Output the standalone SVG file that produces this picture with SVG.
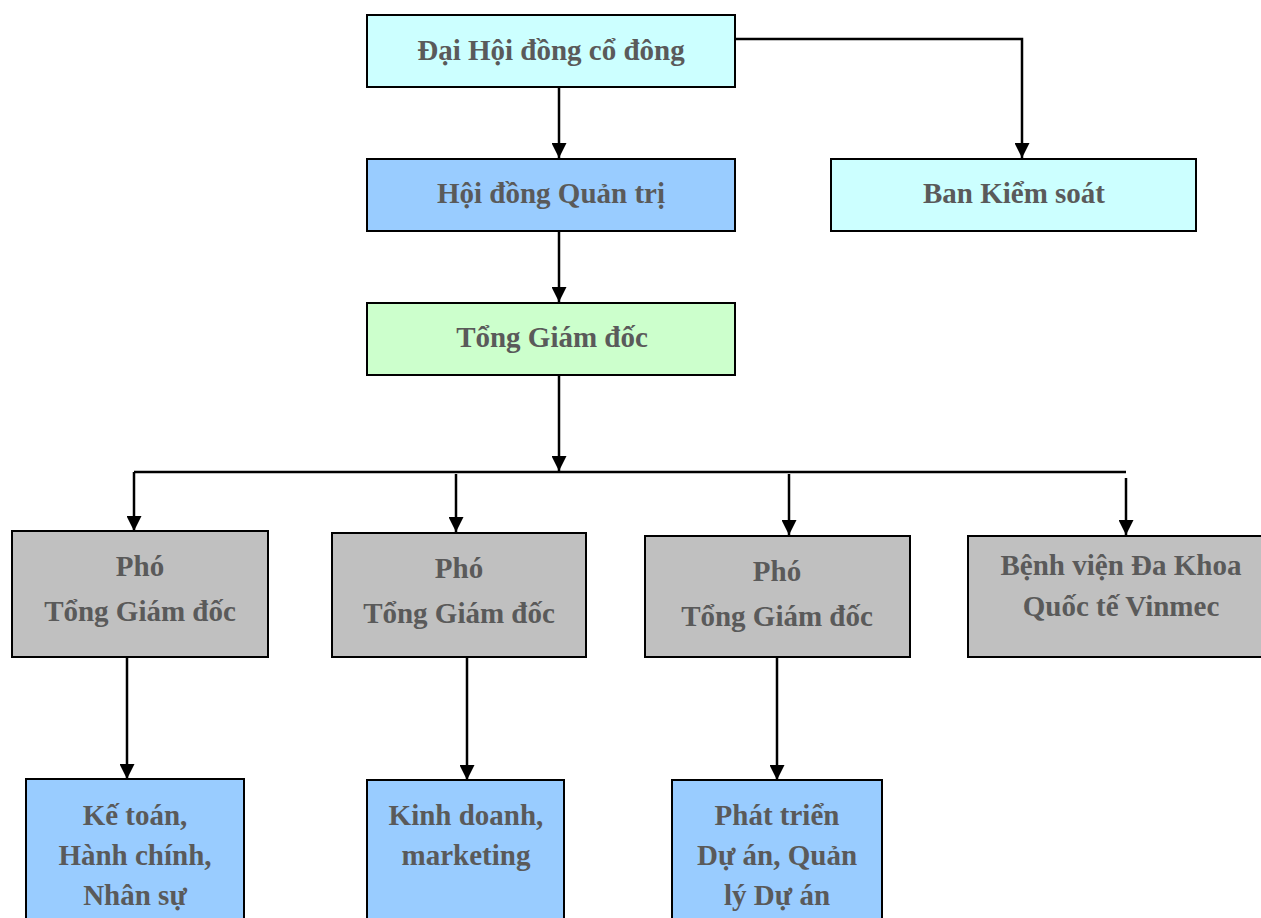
<svg xmlns="http://www.w3.org/2000/svg" width="1261" height="918" viewBox="0 0 1261 918">
<style>
.b{stroke:#000;stroke-width:2}
.t{font-family:"Liberation Serif","Times New Roman",serif;font-weight:bold;font-size:29px;fill:#5a5a5a;text-anchor:middle}
.c{stroke:#000;stroke-width:2.5;fill:none}
</style>
<defs>
<marker id="a" viewBox="0 0 10 10" refX="10" refY="5" markerWidth="15" markerHeight="15" markerUnits="userSpaceOnUse" orient="auto"><path d="M0,0L10,5L0,10z" fill="#000"/></marker>
</defs>
<rect width="1261" height="918" fill="#fff"/>
<g id="connectors">
<path class="c" d="M735,39H1022V158" marker-end="url(#a)"/>
<path class="c" d="M559,87V158" marker-end="url(#a)"/>
<path class="c" d="M559,231V302" marker-end="url(#a)"/>
<path class="c" d="M559,375V471" marker-end="url(#a)"/>
<path class="c" d="M134,472H1126"/>
<path class="c" d="M134,472V531" marker-end="url(#a)"/>
<path class="c" d="M456,474V532" marker-end="url(#a)"/>
<path class="c" d="M789,474V535" marker-end="url(#a)"/>
<path class="c" d="M1126,478V535" marker-end="url(#a)"/>
<path class="c" d="M127,657V779" marker-end="url(#a)"/>
<path class="c" d="M467,657V780" marker-end="url(#a)"/>
<path class="c" d="M777,657V780" marker-end="url(#a)"/>
</g>
<g id="n1"><rect class="b" x="367" y="15" width="368" height="72" fill="#CCFFFF"/><text class="t" x="551" y="60">Đại Hội đồng cổ đông</text></g>
<g id="n2"><rect class="b" x="367" y="159" width="368" height="72" fill="#99CCFF"/><text class="t" x="551" y="203">Hội đồng Quản trị</text></g>
<g id="n3"><rect class="b" x="831" y="159" width="365" height="72" fill="#CCFFFF"/><text class="t" x="1014" y="203">Ban Kiểm soát</text></g>
<g id="n4"><rect class="b" x="367" y="303" width="368" height="72" fill="#CCFFCC"/><text class="t" x="552" y="347">Tổng Giám đốc</text></g>
<g id="n5"><rect class="b" x="12" y="531" width="256" height="126" fill="#C0C0C0"/><text class="t" x="140" y="576">Phó</text><text class="t" x="140" y="621">Tổng Giám đốc</text></g>
<g id="n6"><rect class="b" x="332" y="533" width="254" height="124" fill="#C0C0C0"/><text class="t" x="459" y="578">Phó</text><text class="t" x="459" y="623">Tổng Giám đốc</text></g>
<g id="n7"><rect class="b" x="645" y="536" width="265" height="121" fill="#C0C0C0"/><text class="t" x="777" y="581">Phó</text><text class="t" x="777" y="626">Tổng Giám đốc</text></g>
<g id="n8"><rect class="b" x="968" y="536" width="300" height="121" fill="#C0C0C0"/><text class="t" x="1121" y="575">Bệnh viện Đa Khoa</text><text class="t" x="1121" y="616">Quốc tế Vinmec</text></g>
<g id="n9"><rect class="b" x="26" y="779" width="218" height="150" fill="#99CCFF"/><text class="t" x="135" y="825">Kế toán,</text><text class="t" x="135" y="865">Hành chính,</text><text class="t" x="135" y="905">Nhân sự</text></g>
<g id="n10"><rect class="b" x="367" y="780" width="197" height="150" fill="#99CCFF"/><text class="t" x="466" y="825">Kinh doanh,</text><text class="t" x="466" y="865">marketing</text></g>
<g id="n11"><rect class="b" x="672" y="780" width="210" height="150" fill="#99CCFF"/><text class="t" x="777" y="825">Phát triển</text><text class="t" x="777" y="865">Dự án, Quản</text><text class="t" x="777" y="905">lý Dự án</text></g>
</svg>
